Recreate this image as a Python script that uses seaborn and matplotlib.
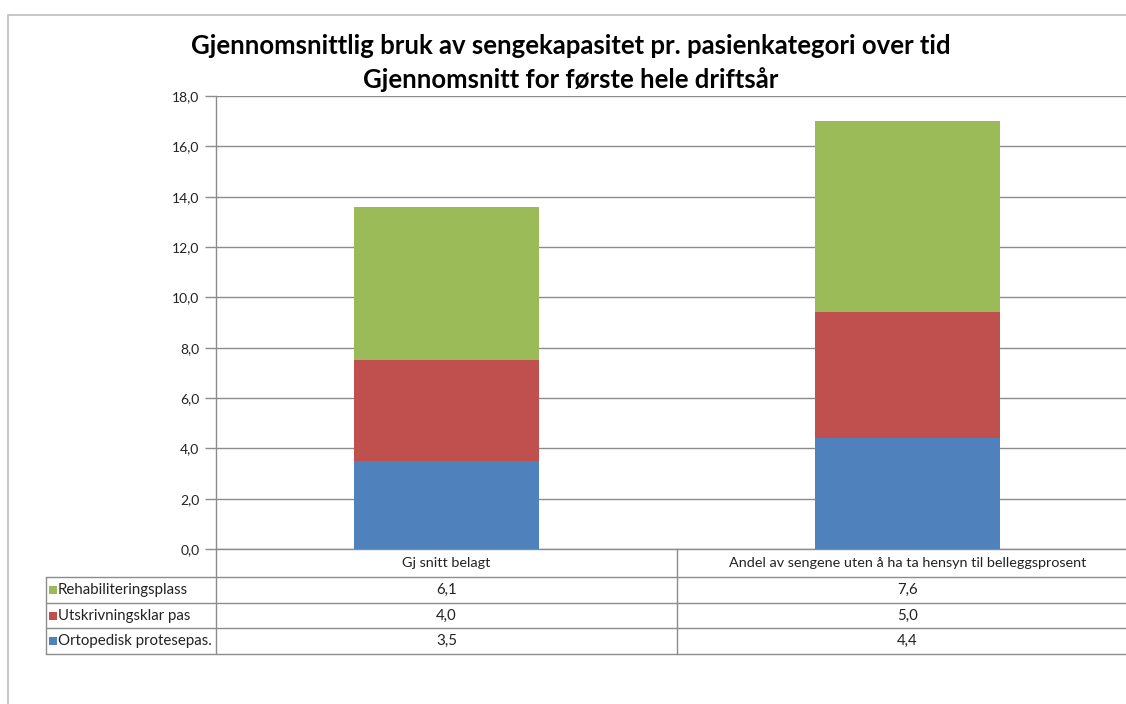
import matplotlib
matplotlib.use("Agg")
import matplotlib.pyplot as plt
import seaborn as sns
import pandas as pd
from matplotlib.patches import Rectangle

# === Data ===
categories = ["Gj snitt belagt",
              "Andel av sengene uten å ha ta hensyn til belleggsprosent"]
series_names = ["Rehabiliteringsplass", "Utskrivningsklar pas", "Ortopedisk protesepas."]
ortopedisk = [3.5, 4.4]
utskrivning = [4.0, 5.0]
rehab = [6.1, 7.6]
series_values = [rehab, utskrivning, ortopedisk]
colors = ["#9BBB59", "#C0504D", "#4F81BD"]

title_lines = ["Gjennomsnittlig bruk av sengekapasitet pr. pasienkategori over tid",
               "Gjennomsnitt for første hele driftsår"]
y_ticks = [0, 2, 4, 6, 8, 10, 12, 14, 16, 18]

df = pd.DataFrame({"kategori": categories,
                   "ort": ortopedisk, "utsk": utskrivning, "rehab": rehab})
df["ort_utsk"] = df["ort"] + df["utsk"]
df["total"] = df["ort_utsk"] + df["rehab"]

# === Figure setup ===
sns.set_theme(style="white")
plt.rcParams["font.family"] = ["Lato", "DejaVu Sans"]

W, H = 1126, 704
fig = plt.figure(figsize=(W / 100, H / 100), dpi=100)
fig.patch.set_facecolor("white")

# outer chart border
fig.add_artist(Rectangle((8 / W, -0.1), 1.2, (H - 15) / H + 0.1,
                         transform=fig.transFigure, fill=False,
                         edgecolor="#BDBDBD", linewidth=1.2))

# plot area runs a little past the right edge of the picture
plot_w = 922
plot_h = 549 - 96
ax = fig.add_axes([216 / W, (H - 549) / H, plot_w / W, plot_h / H])

grid_c = "#8C8C8C"
# stacked bars: largest first, then overlay smaller sums
bar_kw = dict(width=0.4, saturation=1, ax=ax, zorder=3, linewidth=0)
sns.barplot(data=df, x="kategori", y="total", color=colors[0], **bar_kw)
sns.barplot(data=df, x="kategori", y="ort_utsk", color=colors[1], **bar_kw)
sns.barplot(data=df, x="kategori", y="ort", color=colors[2], **bar_kw)

ax.set_ylim(0, 18)
ax.set_xlim(-0.5, len(categories) - 0.5)
ax.set_yticks(y_ticks)
ax.set_yticklabels([f"{v:.1f}".replace(".", ",") for v in y_ticks],
                   fontsize=10, color="#222222")
ax.set_xticks([])
ax.set_xlabel("")
ax.set_ylabel("")
ax.yaxis.grid(True, color=grid_c, linewidth=1, zorder=0)
ax.tick_params(axis="y", which="both", left=True, length=8, width=1,
               color=grid_c, pad=4)
for side in ["top", "right"]:
    ax.spines[side].set_visible(False)
for side in ["left", "bottom"]:
    ax.spines[side].set_color(grid_c)
    ax.spines[side].set_linewidth(1)

# === Title ===
fig.text(571 / W, (H - 46) / H, title_lines[0], ha="center", va="center",
         fontsize=18.5, fontweight="bold", color="black")
fig.text(571 / W, (H - 80) / H, title_lines[1], ha="center", va="center",
         fontsize=18.5, fontweight="bold", color="black")

# === Data table below the axis ===
header_h = 28 / plot_h
row_h = 25.7 / plot_h
label_left = (46 - 216) / plot_w
n = len(categories)
tr = ax.transAxes
line_kw = dict(color=grid_c, linewidth=1, transform=tr, clip_on=False)

# header row
ax.plot([0, 0], [0, -header_h - row_h * 3], **line_kw)
for i, cat in enumerate(categories):
    ax.plot([(i + 1) / n] * 2, [0, -header_h - row_h * 3], **line_kw)
    ax.text((i + 0.5) / n, -header_h / 2, cat, transform=tr, ha="center",
            va="center", fontsize=10.4, color="#222222")

# row lines
for k in range(4):
    y = -header_h - row_h * k
    ax.plot([label_left, 1], [y, y], **line_kw)
ax.plot([label_left, label_left], [-header_h, -header_h - row_h * 3], **line_kw)

for r, (name, vals, c) in enumerate(zip(series_names, series_values, colors)):
    yc = -header_h - row_h * (r + 0.5)
    ax.add_patch(Rectangle((label_left + 3 / plot_w, yc - 4 / plot_h),
                           8 / plot_w, 8 / plot_h, transform=tr,
                           facecolor=c, edgecolor="none", clip_on=False))
    ax.text(label_left + 12 / plot_w, yc, name, transform=tr, ha="left",
            va="center", fontsize=10.8, color="#222222")
    for i, v in enumerate(vals):
        ax.text((i + 0.5) / n, yc, f"{v:.1f}".replace(".", ","), transform=tr,
                ha="center", va="center", fontsize=10.8, color="#222222")

plt.savefig("out.png", dpi=100)
